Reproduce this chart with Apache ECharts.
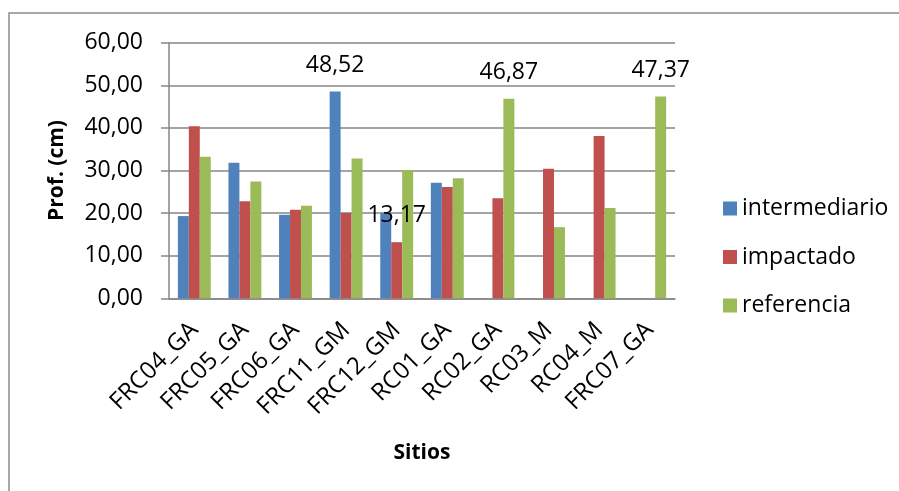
<!DOCTYPE html>
<html>
<head>
<meta charset="utf-8">
<script src="https://cdn.jsdelivr.net/npm/echarts@6/dist/echarts.min.js"></script>
<style>
  html, body { margin: 0; padding: 0; background: #fff; }
  #chart { width: 899px; height: 491px; }
</style>
</head>
<body>
<div id="chart"></div>
<script>
// Sampling sites and mean depth per zone (cm)
const sitios = ['FRC04_GA', 'FRC05_GA', 'FRC06_GA', 'FRC11_GM', 'FRC12_GM',
                'RC01_GA', 'RC02_GA', 'RC03_M', 'RC04_M', 'FRC07_GA'];
const intermediario = [19.3, 31.8, 19.6, 48.52, 20.0, 27.1, null, null, null, null];
const impactado     = [40.4, 22.8, 20.8, 20.0, 13.17, 26.1, 23.5, 30.4, 38.1, null];
const referencia    = [33.2, 27.4, 21.7, 32.8, 30.1, 28.2, 46.87, 16.7, 21.2, 47.37];
const yTicks = [0, 10, 20, 30, 40, 50, 60];

// Values that carry a printed label: [series, category index]
const labelled = [['intermediario', 3], ['impactado', 4], ['referencia', 6], ['referencia', 9]];

const fmt = v => v.toFixed(2).replace('.', ',');
const FONT = 'Open Sans';

function buildData(name, values) {
  return values.map((v, i) => {
    const show = labelled.some(([s, k]) => s === name && k === i);
    return show ? { value: v, label: { show: true } } : v;
  });
}

const seriesDefs = [
  { name: 'intermediario', values: intermediario, color: '#4F81BD' },
  { name: 'impactado', values: impactado, color: '#C0504D' },
  { name: 'referencia', values: referencia, color: '#9BBB59' }
];

const chart = echarts.init(document.getElementById('chart'), null, { renderer: 'canvas' });
chart.setOption({
  animation: false,
  backgroundColor: '#fff',
  textStyle: { fontFamily: FONT },
  // outer frame: only the left and top edges fall inside the canvas
  graphic: [{
    type: 'polyline',
    shape: { points: [[9, 2000], [9, 13], [2000, 13]] },
    style: { fill: null, stroke: '#8c8c8c', lineWidth: 1.5 },
    silent: true
  }],
  grid: { left: 169, right: 224, top: 42.7, bottom: 192.7 },
  legend: {
    orient: 'vertical',
    left: 718,
    top: 192,
    itemWidth: 14,
    itemHeight: 14,
    itemGap: 25.5,
    icon: 'rect',
    textStyle: { fontFamily: FONT, fontSize: 23, color: '#000' },
    data: seriesDefs.map(s => s.name)
  },
  xAxis: {
    type: 'category',
    data: sitios,
    name: 'Sitios',
    nameLocation: 'middle',
    nameGap: 144,
    nameTextStyle: { fontFamily: FONT, fontSize: 21, fontWeight: 'bold', color: '#000' },
    axisLine: { lineStyle: { color: '#868686', width: 1.5 } },
    axisTick: { show: false },
    axisLabel: {
      rotate: 45,
      interval: 0,
      margin: 28,
      fontFamily: FONT,
      fontSize: 24,
      color: '#000'
    }
  },
  yAxis: {
    type: 'value',
    min: yTicks[0],
    max: yTicks[yTicks.length - 1],
    interval: 10,
    name: 'Prof. (cm)',
    nameLocation: 'middle',
    nameGap: 101,
    nameRotate: 90,
    nameTextStyle: { fontFamily: FONT, fontSize: 21, fontWeight: 'bold', color: '#000' },
    axisLine: { show: true, lineStyle: { color: '#868686', width: 1.5 } },
    axisTick: { show: true, length: 8, lineStyle: { color: '#868686', width: 1.5 } },
    splitLine: { lineStyle: { color: '#868686', width: 1.5 } },
    axisLabel: {
      margin: 26,
      fontFamily: FONT,
      fontSize: 23,
      color: '#000',
      formatter: v => fmt(v)
    }
  },
  series: seriesDefs.map(s => ({
    name: s.name,
    type: 'bar',
    data: buildData(s.name, s.values),
    itemStyle: { color: s.color },
    barGap: '0%',
    barCategoryGap: '35%',
    label: {
      show: false,
      position: 'top',
      distance: 15,
      fontFamily: FONT,
      fontSize: 23,
      color: '#000',
      formatter: p => fmt(p.value)
    }
  }))
});
</script>
</body>
</html>
